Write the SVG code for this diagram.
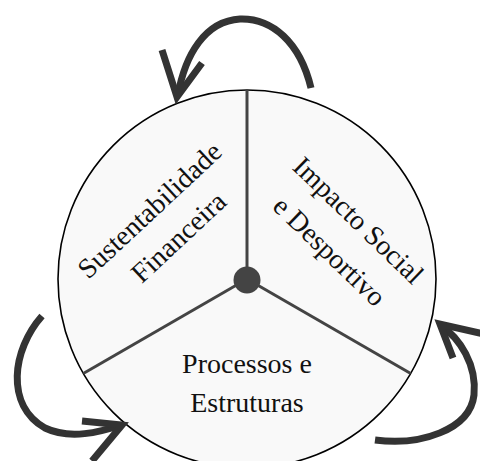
<svg xmlns="http://www.w3.org/2000/svg" width="480" height="461" viewBox="0 0 480 461">
<style>
.lbl{font-family:"Liberation Serif","Times New Roman",serif;font-size:28px;fill:#111;text-anchor:middle}
.spoke{stroke:#444;stroke-width:3;fill:none}
.arr{stroke:#333;stroke-width:7;fill:none;stroke-linecap:butt;stroke-linejoin:miter}
</style>
<rect width="480" height="461" fill="#fff"/>
<g id="wheel">
<circle cx="247" cy="279" r="189" fill="#f9f9f9" stroke="#000" stroke-width="1.6"/>
</g>
<g id="connectors">
<line class="spoke" x1="247" y1="279" x2="247" y2="90"/>
<line class="spoke" x1="247" y1="279" x2="83.3" y2="373.5"/>
<line class="spoke" x1="247" y1="279" x2="410.7" y2="373.5"/>
<circle cx="247" cy="280" r="13.5" fill="#444"/>
<path class="arr" d="M311,88 C300,42 272,18 240,19 C205,21 185,55 178,95"/>
<path class="arr" d="M162,50 L177,97 L202,63"/>
<path class="arr" d="M42,316 C12,350 5,405 45,428 C70,440 100,432 122,425"/>
<path class="arr" d="M82,421 L122,425 L92,461"/>
<path class="arr" d="M375,440 C420,446 470,430 474,395 C477,365 460,338 440,325"/>
<path class="arr" d="M453,358 L440,324 L484,334"/>
</g>
<g id="node-sustentabilidade">
<text class="lbl" x="156" y="217" transform="rotate(-43 156 217)">Sustentabilidade</text>
<text class="lbl" x="185" y="244" transform="rotate(-43 185 244)">Financeira</text>
</g>
<g id="node-impacto">
<text class="lbl" x="352" y="227" transform="rotate(44 352 227)">Impacto Social</text>
<text class="lbl" x="323" y="258" transform="rotate(44 323 258)">e Desportivo</text>
</g>
<g id="node-processos">
<text class="lbl" x="247" y="373">Processos e</text>
<text class="lbl" x="247" y="412">Estruturas</text>
</g>
</svg>
